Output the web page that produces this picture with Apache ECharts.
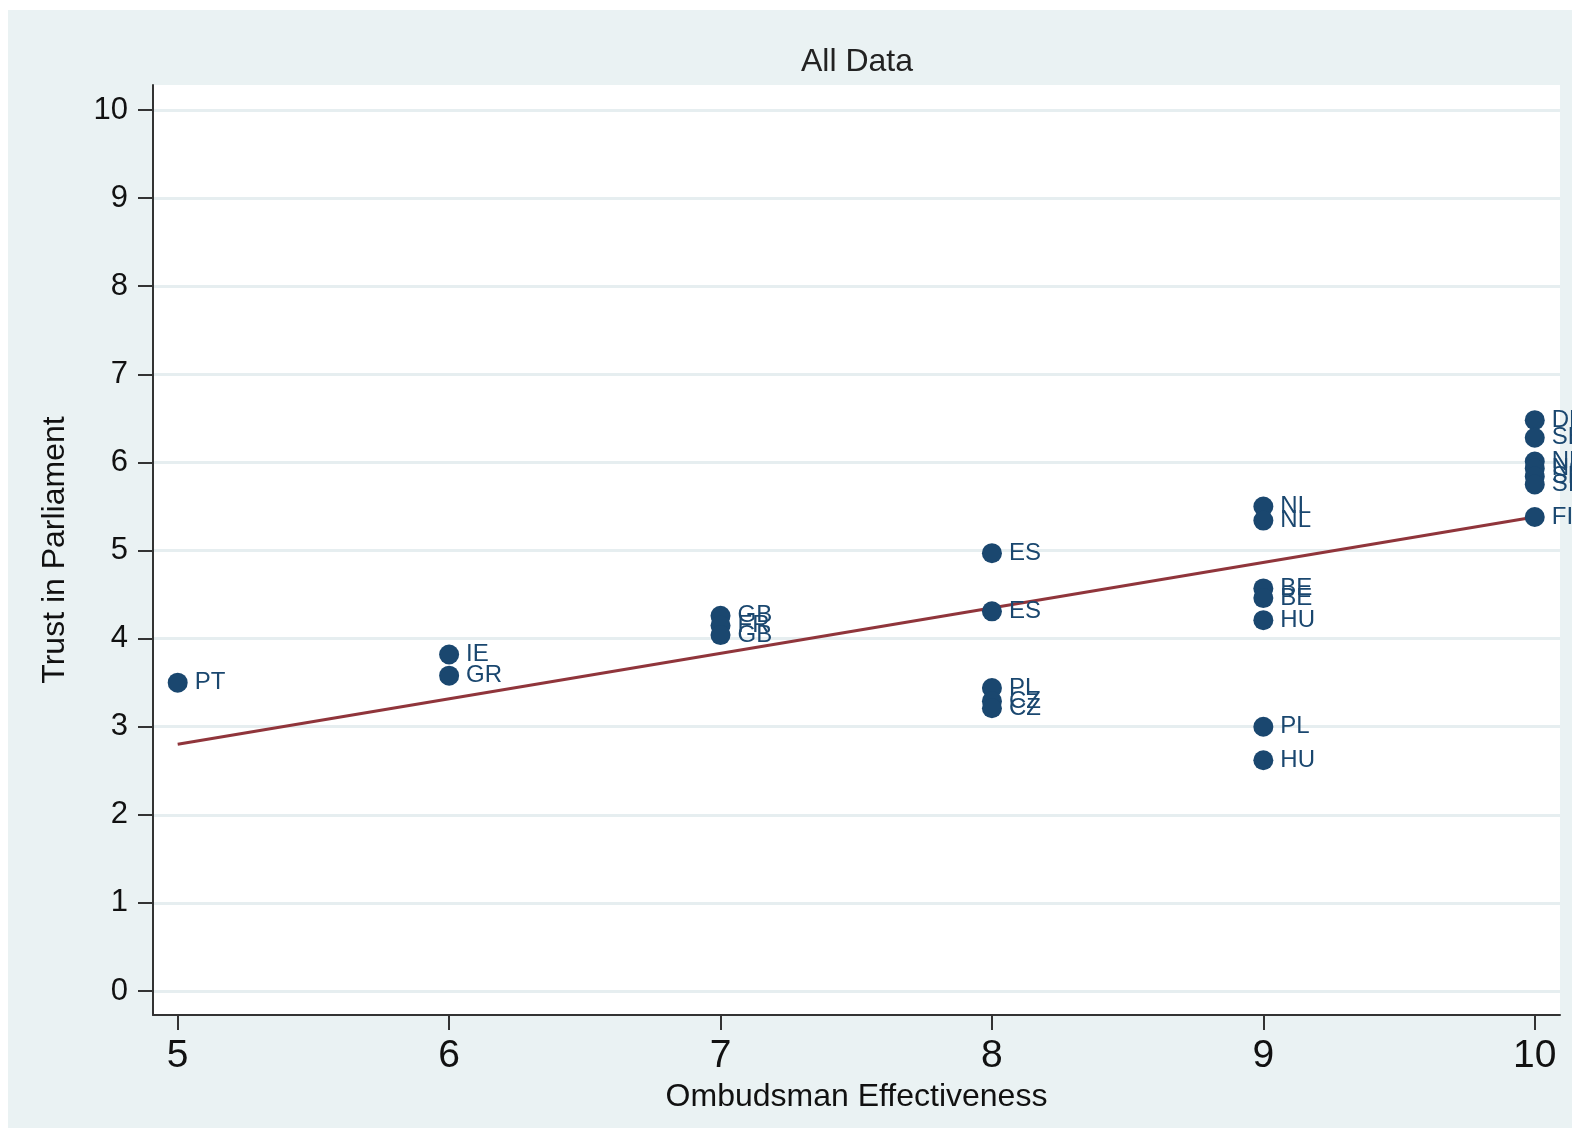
<!DOCTYPE html>
<html>
<head>
<meta charset="utf-8">
<script src="https://cdn.jsdelivr.net/npm/echarts@6/dist/echarts.min.js"></script>
<style>
  html, body { margin: 0; padding: 0; background: #fff; }
  #chart { position: absolute; left: 8px; top: 10px; width: 1564px; height: 1118px; }
</style>
</head>
<body>
<div id="chart"></div>
<script>
// country points: ombudsman score, trust in parliament, label
const countries = ['PT', 'IE', 'GR', 'GB', 'FR', 'GB', 'ES', 'ES', 'PL', 'CZ', 'CZ',
  'NL', 'NL', 'BE', 'BE', 'HU', 'PL', 'HU', 'DK', 'SE', 'NL', 'NO', 'SE', 'SI', 'FI']
const effectiveness = [5, 6, 6, 7, 7, 7, 8, 8, 8, 8, 8,
  9, 9, 9, 9, 9, 9, 9, 10, 10, 10, 10, 10, 10, 10]
const trust = [3.50, 3.82, 3.58, 4.26, 4.15, 4.04, 4.97, 4.31, 3.44, 3.29, 3.21,
  5.50, 5.34, 4.57, 4.46, 4.21, 3.00, 2.62, 6.48, 6.28, 6.01, 5.93, 5.84, 5.75, 5.38]

// fitted line end points
const fitX = [5, 10]
const fitY = [2.80, 5.38]

const xTicks = [5, 6, 7, 8, 9, 10]
const yTicks = [0, 1, 2, 3, 4, 5, 6, 7, 8, 9, 10]

const font = "'Liberation Sans', Arial, sans-serif"
const navy = '#1A476F'

const chart = echarts.init(document.getElementById('chart'))

chart.setOption({
  backgroundColor: '#EAF2F3',
  animation: false,
  title: {
    text: 'All Data',
    left: 844,
    textAlign: 'center',
    top: 31,
    textStyle: { fontFamily: font, fontSize: 32, fontWeight: 'normal', color: '#222' }
  },
  grid: {
    left: 145, right: 12, top: 75, bottom: 113,
    show: true, backgroundColor: '#fff', borderWidth: 0
  },
  xAxis: {
    type: 'value',
    min: 4.909,
    max: 10.093,
    name: 'Ombudsman Effectiveness',
    nameLocation: 'middle',
    nameGap: 66,
    nameTextStyle: { fontFamily: font, fontSize: 32, color: '#111' },
    axisLine: { onZero: false, lineStyle: { color: '#333', width: 2 } },
    axisTick: { customValues: xTicks, length: 15, lineStyle: { color: '#333', width: 2 } },
    axisLabel: { customValues: xTicks, margin: 22, fontFamily: font, fontSize: 39, color: '#111' },
    splitLine: { show: false }
  },
  yAxis: {
    type: 'value',
    min: -0.272,
    max: 10.284,
    name: 'Trust in Parliament',
    nameLocation: 'middle',
    nameGap: 82,
    nameTextStyle: { fontFamily: font, fontSize: 32, color: '#111' },
    axisLine: { show: true, onZero: false, lineStyle: { color: '#333', width: 2 } },
    axisTick: { show: true, customValues: yTicks, length: 15, lineStyle: { color: '#333', width: 2 } },
    axisLabel: { customValues: yTicks, margin: 25, fontFamily: font, fontSize: 31, color: '#111' },
    splitLine: { show: true, lineStyle: { color: '#E6EEF0', width: 3 } }
  },
  series: [
    {
      type: 'line',
      data: fitX.map((x, i) => [x, fitY[i]]),
      showSymbol: false,
      lineStyle: { color: '#90353B', width: 3 },
      z: 2
    },
    {
      type: 'scatter',
      data: countries.map((c, i) => [effectiveness[i], trust[i], c]),
      symbolSize: 20,
      itemStyle: { color: navy, opacity: 1 },
      label: {
        show: true,
        position: 'right',
        distance: 7,
        formatter: (p) => p.data[2],
        fontFamily: font,
        fontSize: 24,
        color: navy
      },
      z: 3
    }
  ]
})
</script>
</body>
</html>
